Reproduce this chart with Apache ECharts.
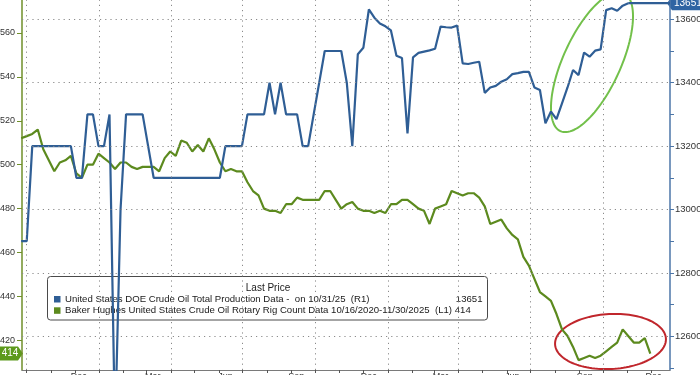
<!DOCTYPE html>
<html><head><meta charset="utf-8">
<script src="https://cdn.jsdelivr.net/npm/echarts@6/dist/echarts.min.js"></script>
<style>html,body{margin:0;padding:0;background:#fff}#c{width:700px;height:375px}</style>
</head><body><div id="c"></div>
<script>
// ---------- data ----------
const weekStart = '2023-09-24';           // first weekly observation (both series)
const productionValues = [               // R1: US DOE crude oil production (kb/d)
  12900,12900,13200,13200,13200,13200,13200,13200,13200,13200,
  13100,13100,13300,13300,13200,13200,13300,12300,13000,13300,
  13300,13300,13300,13200,13100,13100,13100,13100,13100,13100,
  13100,13100,13100,13100,13100,13100,13100,13200,13200,13200,
  13200,13300,13300,13300,13300,13400,13300,13400,13300,13300,
  13300,13200,13200,13300,13400,13500,13500,13500,13500,13400,
  13200,13490,13510,13631,13605,13587,13578,13565,13485,13478,
  13240,13480,13494,13498,13502,13507,13577,13575,13574,13580,
  13461,13459,13463,13466,13368,13385,13390,13403,13411,13427,
  13430,13434,13434,13385,13377,13272,13309,13285,13335,13385,
  13440,13424,13495,13482,13501,13505,13629,13635,13627,13643,
  13651
];
const rigCountValues = [                 // L1: Baker Hughes US crude oil rig count
  512,513,514,516,507,502,497,501,502,504,496,
  494,500,500,505,503,501,498,501,501,499,
  498,499,499,499,497,503,506,504,511,510,
  506,509,506,512,507,501,497,498,497,497,
  492,488,486,480,479,479,478,482,482,485,
  484,484,484,484,488,488,484,480,482,483,
  480,479,479,478,479,478,482,482,484,484,
  482,480,479,473,480,481,482,488,487,486,
  487,487,485,481,473,474,475,471,468,466,
  458,454,448,442,440,438,432,425,422,417,
  411,412,413,412,413,415,417,419,425,422,
  419,419,421,414
];
const leftTicks = [420,440,460,480,500,520,540,560];
const rightLabels = [12600,12800,13000,13200,13400,13600];
const rightTicks = [12500,12600,12700,12800,12900,13000,13100,13200,13300,13400,13500,13600];
const quarterDates = ['2023-10-01','2024-01-01','2024-04-01','2024-07-01','2024-10-01','2025-01-01','2025-04-01','2025-07-01','2025-10-01'];
const monthTicks = ['2023-10-01','2023-11-01','2023-12-01','2024-01-01','2024-02-01','2024-03-01','2024-04-01','2024-05-01','2024-06-01','2024-07-01','2024-08-01','2024-09-01','2024-10-01','2024-11-01','2024-12-01','2025-01-01','2025-02-01','2025-03-01','2025-04-01','2025-05-01','2025-06-01','2025-07-01','2025-08-01','2025-09-01','2025-10-01','2025-11-01','2025-12-01'];
const xLabelDates = ['2023-12-06','2024-03-09','2024-06-09','2024-09-07','2024-12-08','2025-03-09','2025-06-08','2025-09-08','2025-12-04'];
const monthNames = ['Jan','Feb','Mar','Apr','May','Jun','Jul','Aug','Sep','Oct','Nov','Dec'];
const xMin = '2023-09-25', xMax = '2025-12-25';
const leftRange = [406.5, 575];
const rightRange = [12493.7, 13660.9];
const legendTitle = 'Last Price';
const prodLabel = 'United States DOE Crude Oil Total Production Data -  on 10/31/25  (R1)';
const rigLabel = 'Baker Hughes United States Crude Oil Rotary Rig Count Data 10/16/2020-11/30/2025';
const rigTag = '(L1)';

// ---------- build ----------
const ts = s => new Date(s + 'T00:00:00').getTime();
const week = i => { const d = new Date(weekStart + 'T00:00:00'); d.setDate(d.getDate() + 7 * i); return d.getTime(); };
const prodData = productionValues.map((v, i) => [week(i), v]);
const rigData = rigCountValues.map((v, i) => [week(i), v]);
const lastProd = productionValues[productionValues.length - 1];
const lastRig = rigCountValues[rigCountValues.length - 1];
const prodExt = [[prodData[prodData.length - 1][0], lastProd], [ts(xMax), lastProd]];

const BLUE = '#2f5e95', GREEN = '#5c8a1e', FONT = 'Liberation Sans';
const dotted = { color: '#8a8a8a', width: 1, type: [1.2, 4] };

const chart = echarts.init(document.getElementById('c'), null, { renderer: 'canvas' });
chart.setOption({
  animation: false,
  backgroundColor: '#fff',
  grid: { left: 22, right: 30, top: 0, bottom: 5, containLabel: false, outerBoundsMode: 'none' },
  xAxis: {
    type: 'value', min: ts(xMin), max: ts(xMax), scale: true,
    axisLine: { show: true, onZero: false, lineStyle: { color: '#7a7a7a', width: 1 } },
    axisTick: { show: true, length: 3, customValues: monthTicks.map(ts), lineStyle: { color: '#555' } },
    axisLabel: { show: true, margin: 2, fontSize: 9, fontFamily: FONT, color: '#333',
      customValues: xLabelDates.map(ts), formatter: v => monthNames[new Date(v).getMonth()] },
    splitLine: { show: false }
  },
  yAxis: [
    { type: 'value', position: 'left', min: leftRange[0], max: leftRange[1],
      axisLine: { show: true, lineStyle: { color: '#6f8f2a', width: 1.5 } },
      axisTick: { show: true, length: 5, customValues: leftTicks, lineStyle: { color: '#6f8f2a' } },
      axisLabel: { customValues: leftTicks, margin: 7, fontSize: 9, fontFamily: FONT, color: '#333', formatter: v => String(v) },
      splitLine: { show: false } },
    { type: 'value', position: 'right', min: rightRange[0], max: rightRange[1],
      axisLine: { show: true, lineStyle: { color: '#4d76a8', width: 1.5 } },
      axisTick: { show: true, length: 4, customValues: rightTicks, lineStyle: { color: '#4d76a8' } },
      axisLabel: { customValues: rightLabels, margin: 5, fontSize: 9.5, fontFamily: FONT, color: '#333', formatter: v => String(v) },
      splitLine: { show: false } }
  ],
  series: [
    { type: 'line', name: 'grid', yAxisIndex: 1, data: [], silent: true,
      markLine: { silent: true, symbol: 'none', label: { show: false }, lineStyle: dotted, animation: false,
        data: quarterDates.map(d => ({ xAxis: ts(d) })).concat(rightLabels.map(v => ({ yAxis: v }))) } },
    { type: 'line', name: 'rig', yAxisIndex: 0, data: rigData, symbol: 'none',
      lineStyle: { color: GREEN, width: 2.2 }, itemStyle: { color: GREEN } },
    { type: 'line', name: 'prod', yAxisIndex: 1, data: prodData, symbol: 'none',
      lineStyle: { color: BLUE, width: 2.2 }, itemStyle: { color: BLUE } },
    { type: 'line', name: 'prodExt', yAxisIndex: 1, data: prodExt, symbol: 'none',
      lineStyle: { color: BLUE, width: 2.2 } }
  ]
});

// ---------- annotations ----------
function ellipsePts(cx, cy, a, b, deg) {
  const th = deg * Math.PI / 180, pts = [];
  for (let k = 0; k < 120; k++) {
    const t = k / 120 * 2 * Math.PI;
    pts.push([cx + a * Math.cos(t) * Math.cos(th) - b * Math.sin(t) * Math.sin(th),
              cy - (a * Math.cos(t) * Math.sin(th) + b * Math.sin(t) * Math.cos(th))]);
  }
  return pts;
}
const yProd = chart.convertToPixel({ yAxisIndex: 1 }, lastProd);
const yRig = chart.convertToPixel({ yAxisIndex: 0 }, lastRig);
const lx = 47.5, ly = 276.5, lw = 440, lh = 43.5;
const tStyle = (o) => Object.assign({ fontFamily: FONT, fontSize: 9.6, fill: '#1a1a1a' }, o);

chart.setOption({
  graphic: [
    { type: 'polygon', silent: true, shape: { points: ellipsePts(592, 62, 76, 28.7, 65.4) },
      style: { fill: 'none', stroke: '#72c04a', lineWidth: 2 } },
    { type: 'polygon', silent: true, shape: { points: ellipsePts(610.5, 341.5, 55.5, 27.5, 3) },
      style: { fill: 'none', stroke: '#c0262c', lineWidth: 2 } },
    // legend box
    { type: 'rect', shape: { x: lx, y: ly, width: lw, height: lh, r: 3 },
      style: { fill: '#fff', stroke: '#4a4a4a', lineWidth: 1 } },
    { type: 'text', x: 268, y: 288, style: tStyle({ text: legendTitle, align: 'center', verticalAlign: 'middle', fontSize: 10 }) },
    { type: 'rect', shape: { x: 54, y: 296, width: 6.5, height: 6.5 }, style: { fill: BLUE } },
    { type: 'text', x: 65, y: 299.5, style: tStyle({ text: prodLabel, verticalAlign: 'middle' }) },
    { type: 'text', x: 482.5, y: 299.5, style: tStyle({ text: String(lastProd), align: 'right', verticalAlign: 'middle' }) },
    { type: 'rect', shape: { x: 54, y: 307.3, width: 6.5, height: 6.5 }, style: { fill: GREEN } },
    { type: 'text', x: 65, y: 310.8, style: tStyle({ text: rigLabel, verticalAlign: 'middle' }) },
    { type: 'text', x: 435, y: 310.8, style: tStyle({ text: rigTag + ' ' + lastRig, verticalAlign: 'middle' }) },
    // right value tag
    { type: 'polygon', shape: { points: [[667, yProd], [672, yProd - 7], [700, yProd - 7], [700, yProd + 7], [672, yProd + 7]] },
      style: { fill: '#2f64a3' } },
    { type: 'text', x: 674, y: yProd, style: { text: String(lastProd), fontFamily: FONT, fontSize: 10, fill: '#fff', verticalAlign: 'middle' } },
    // left value tag
    { type: 'polygon', shape: { points: [[0, yRig - 7], [18, yRig - 7], [23, yRig], [18, yRig + 7], [0, yRig + 7]] },
      style: { fill: '#5d9a1c' } },
    { type: 'text', x: 10, y: yRig, style: { text: String(lastRig), fontFamily: FONT, fontSize: 10, fill: '#fff', align: 'center', verticalAlign: 'middle' } }
  ]
});
</script>
</body></html>
